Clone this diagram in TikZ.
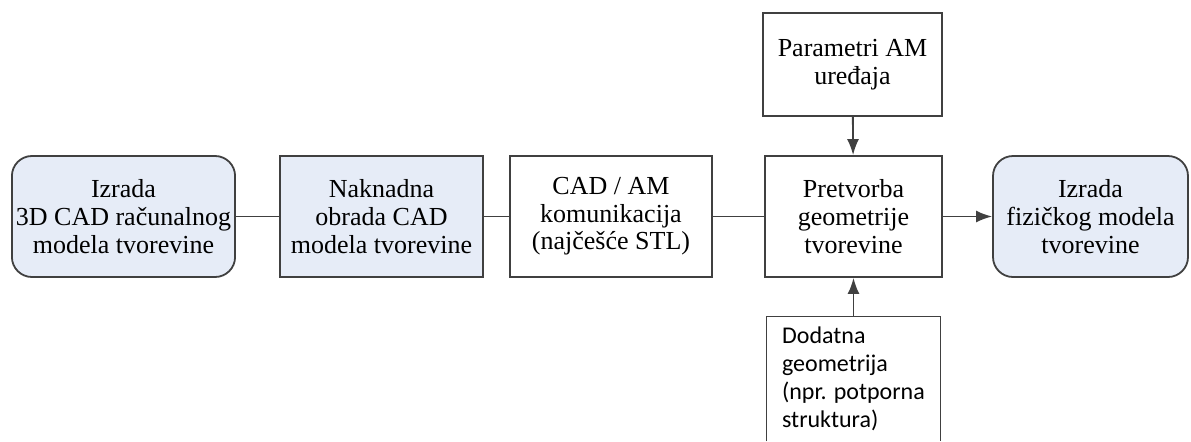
\documentclass[tikz,border=0pt]{standalone}
\usepackage{fontspec}
\setmainfont{Liberation Serif}
\newfontfamily\calibfont{Carlito}
\usetikzlibrary{arrows.meta}

\definecolor{boxblue}{HTML}{E6ECF7}
\definecolor{linegray}{HTML}{404040}

\tikzset{
  stage/.style={draw=linegray, line width=0.9pt, align=center, inner sep=2pt,
    minimum height=60.5pt, font=\fontsize{13}{13.8}\selectfont},
  endstage/.style={stage, fill=boxblue, rounded corners=10pt},
  blustage/.style={stage, fill=boxblue},
  flow/.style={draw=linegray, line width=0.9pt},
  flowarrow/.style={flow, -{Latex[length=8pt,width=6pt]}}
}

\begin{document}
\begin{tikzpicture}[x=0.5pt,y=-0.5pt]
\useasboundingbox (0,0) rectangle (1191,441);
% main chain
\node[endstage, minimum width=111.5pt] (model) at (123.5,216.5) {Izrada\\3D CAD računalnog\\modela tvorevine};
\node[blustage, minimum width=101.5pt] (obrada) at (381.5,216.5) {Naknadna\\obrada CAD\\modela tvorevine};
\node[stage, minimum width=101pt] (stl) at (611,216.5) {CAD / AM\\komunikacija\\(najčešće STL)};
\node[stage, minimum width=88.5pt] (pretvorba) at (853.5,216.5) {Pretvorba\\geometrije\\tvorevine};
\node[endstage, minimum width=97.5pt] (fizicki) at (1090.5,216.5) {Izrada\\fizičkog modela\\tvorevine};
% inputs
\node[stage, minimum width=89.5pt, minimum height=51.5pt] (parametri) at (852.5,64.5) {Parametri AM\\uređaja};
\node[minimum width=86.5pt, minimum height=62pt, align=left,
  font=\calibfont\fontsize{12}{14}\selectfont] (dodatna) at (853.5,379)
  {Dodatna\\geometrija\\(npr. potporna\\struktura)};
\draw[linegray, line width=0.6pt] (dodatna.south west) -- (dodatna.north west)
  -- (dodatna.north east) -- (dodatna.south east);
% connectors
\draw[flow] (model) -- (obrada);
\draw[flow] (obrada) -- (stl);
\draw[flow] (stl) -- (pretvorba);
\draw[flowarrow] (pretvorba) -- (fizicki);
\draw[flowarrow] (parametri) -- (pretvorba);
\draw[flowarrow] (dodatna) -- (pretvorba);
\end{tikzpicture}
\end{document}
